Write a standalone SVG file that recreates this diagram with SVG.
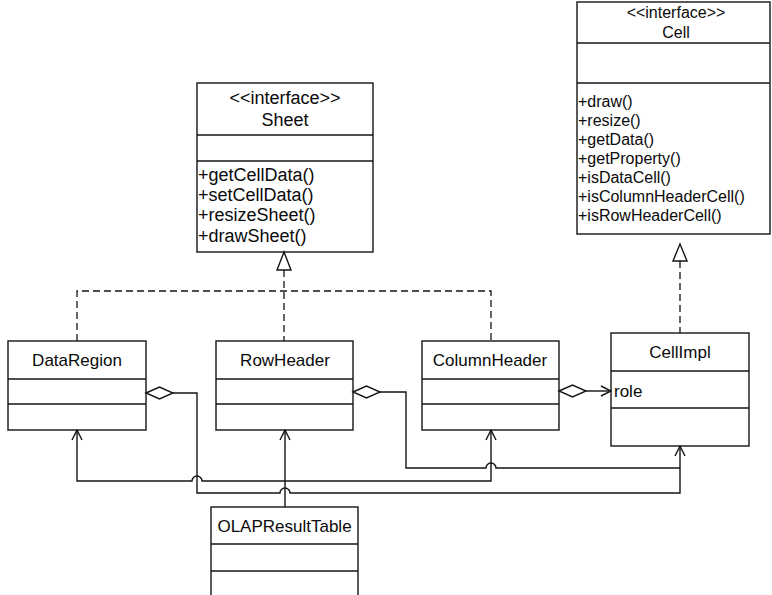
<svg xmlns="http://www.w3.org/2000/svg" width="772" height="595" viewBox="0 0 772 595">
  <style>
    .box { fill: #ffffff; stroke: #141414; stroke-width: 1.4; }
    .div { stroke: #141414; stroke-width: 1.4; }
    .t { font-family: "Liberation Sans", Arial, sans-serif; font-size: 17px; fill: #0a0a0a; }
    .tl { font-family: "Liberation Sans", Arial, sans-serif; font-size: 18px; fill: #0a0a0a; }
    .ts { font-family: "Liberation Sans", Arial, sans-serif; font-size: 16px; fill: #0a0a0a; }
    .mid { text-anchor: middle; }
    .line { fill: none; stroke: #141414; stroke-width: 1.4; }
    .dash { fill: none; stroke: #141414; stroke-width: 1.3; stroke-dasharray: 7 4; }
    .tri { fill: #ffffff; stroke: #141414; stroke-width: 1.4; }
    .dia { fill: #ffffff; stroke: #141414; stroke-width: 1.4; }
  </style>
  <defs>
    <marker id="open" viewBox="0 0 12 12" refX="11" refY="6" markerWidth="12" markerHeight="12" markerUnits="userSpaceOnUse" orient="auto">
      <path d="M1,1 L11,6 L1,11" fill="none" stroke="#141414" stroke-width="1.4"/>
    </marker>
  </defs>

  <!-- interface Sheet -->
  <g id="sheet">
    <rect class="box" x="197" y="83" width="176" height="169"/>
    <line class="div" x1="197" y1="135" x2="373" y2="135"/>
    <line class="div" x1="197" y1="161" x2="373" y2="161"/>
    <text class="tl mid" x="285" y="104">&lt;&lt;interface&gt;&gt;</text>
    <text class="tl mid" x="285" y="126">Sheet</text>
    <text class="tl" x="198" y="181">+getCellData()</text>
    <text class="tl" x="198" y="201">+setCellData()</text>
    <text class="tl" x="198" y="221">+resizeSheet()</text>
    <text class="tl" x="198" y="242">+drawSheet()</text>
  </g>

  <!-- interface Cell -->
  <g id="cell">
    <rect class="box" x="577" y="2" width="193" height="232"/>
    <line class="div" x1="577" y1="43" x2="770" y2="43"/>
    <line class="div" x1="577" y1="83" x2="770" y2="83"/>
    <text class="ts mid" x="676" y="18">&lt;&lt;interface&gt;&gt;</text>
    <text class="ts mid" x="676" y="38">Cell</text>
    <text class="ts" x="578" y="107">+draw()</text>
    <text class="ts" x="578" y="126">+resize()</text>
    <text class="ts" x="578" y="145">+getData()</text>
    <text class="ts" x="578" y="164">+getProperty()</text>
    <text class="ts" x="578" y="183">+isDataCell()</text>
    <text class="ts" x="578" y="202">+isColumnHeaderCell()</text>
    <text class="ts" x="578" y="221">+isRowHeaderCell()</text>
  </g>

  <g id="dataregion">
    <rect class="box" x="8" y="341" width="138" height="89"/>
    <line class="div" x1="8" y1="379" x2="146" y2="379"/>
    <line class="div" x1="8" y1="404" x2="146" y2="404"/>
    <text class="t mid" x="77" y="366">DataRegion</text>
  </g>

  <g id="rowheader">
    <rect class="box" x="216" y="341" width="137" height="89"/>
    <line class="div" x1="216" y1="379" x2="353" y2="379"/>
    <line class="div" x1="216" y1="404" x2="353" y2="404"/>
    <text class="t mid" x="285" y="366">RowHeader</text>
  </g>

  <g id="columnheader">
    <rect class="box" x="422" y="341" width="137" height="89"/>
    <line class="div" x1="422" y1="379" x2="559" y2="379"/>
    <line class="div" x1="422" y1="404" x2="559" y2="404"/>
    <text class="t mid" x="490" y="366">ColumnHeader</text>
  </g>

  <g id="cellimpl">
    <rect class="box" x="611" y="333" width="138" height="113"/>
    <line class="div" x1="611" y1="371" x2="749" y2="371"/>
    <line class="div" x1="611" y1="408" x2="749" y2="408"/>
    <text class="t mid" x="680" y="358">CellImpl</text>
    <text class="t" x="614" y="397">role</text>
  </g>

  <g id="olapresulttable">
    <rect class="box" x="211" y="507" width="147" height="100"/>
    <line class="div" x1="211" y1="544" x2="358" y2="544"/>
    <line class="div" x1="211" y1="571" x2="358" y2="571"/>
    <text class="t mid" x="284.5" y="532">OLAPResultTable</text>
  </g>

  <g id="connectors">
    <!-- realizations of Sheet -->
    <path class="dash" d="M77,341 V291 H491 V341"/>
    <path class="dash" d="M284,270 V341"/>
    <polygon class="tri" points="284,252 277,270 291,270"/>
    <!-- realization of Cell -->
    <path class="dash" d="M680,261 V333"/>
    <polygon class="tri" points="680,244 673,261 687,261"/>

    <!-- aggregations towards CellImpl -->
    <path class="line" d="M173,393 H197 V493 H280 A5,5 0 0 1 290,493 H680 V446" marker-end="url(#open)"/>
    <polygon class="dia" points="146,393 159.5,387 173,393 159.5,399"/>
    <path class="line" d="M380,392 H406 V468 H486 A5,5 0 0 1 496,468 H680"/>
    <polygon class="dia" points="353,392 366.5,386 380,392 366.5,398"/>
    <path class="line" d="M586,391 H611" marker-end="url(#open)"/>
    <polygon class="dia" points="559,391 572.5,385 586,391 572.5,397"/>

    <!-- OLAPResultTable associations -->
    <path class="line" d="M285,507 V430" marker-end="url(#open)"/>
    <path class="line" d="M285,481 H202 A5,5 0 0 0 192,481 H77 V430" marker-end="url(#open)"/>
    <path class="line" d="M285,481 H491 V430" marker-end="url(#open)"/>
  </g>
</svg>
